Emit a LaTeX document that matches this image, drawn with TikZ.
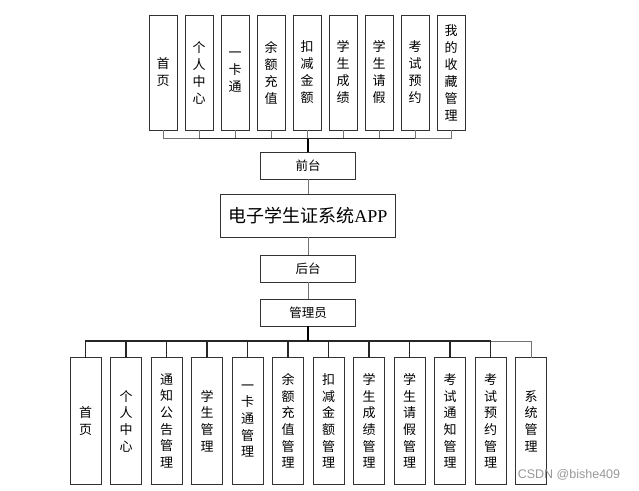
\documentclass[tikz,border=0pt]{standalone}
\usepackage{fontspec}
\setmainfont{Liberation Sans}
\newfontfamily\cjk{Noto Sans CJK SC}
\newfontfamily\titleser{Liberation Serif}
\tikzset{
  box/.style={draw=black!80, line width=1pt, inner sep=0pt, outer sep=0pt, fill=white},
  vbox/.style={box, minimum width=28pt, minimum height=115pt, align=center,
     font=\cjk\fontsize{13}{17}\selectfont},
  wbox/.style={box, minimum width=31pt, minimum height=127pt, align=center,
     font=\cjk\fontsize{13}{16.7}\selectfont},
  hbox/.style={box, minimum width=95.5pt, minimum height=27pt, font=\cjk\fontsize{12.5}{14}\selectfont},
  link/.style={draw=black!55, line width=1pt},
  darklink/.style={draw=black!85, line width=1.1pt},
  mainlink/.style={draw=black, line width=1.8pt},
}
\begin{document}
\begin{tikzpicture}[x=1pt,y=-1pt]
\useasboundingbox (0,0) rectangle (639,490);
% top boxes
\foreach \t [count=\i from 0] in {首\\页,个\\人\\中\\心,一\\卡\\通,余\\额\\充\\值,扣\\减\\金\\额,学\\生\\成\\绩,学\\生\\请\\假,考\\试\\预\\约,我\\的\\收\\藏\\管\\理}{
  \node[vbox] (t\i) at ({163+36*\i},72.5) {\t};
}
\node[hbox] (front) at (308,165.5) {前台};
\node[box, minimum width=175pt, minimum height=43pt] (app) at (308,215.5)
  {\cjk\fontsize{18}{20}\selectfont 电子学生证系统\titleser APP};
\node[hbox] (back) at (308,268.75) {后台};
\node[hbox] (admin) at (308,312.75) {管理员};
\coordinate (busT) at (308,138.5);
\coordinate (busB) at (308,341);
\foreach \i in {0,...,8}{ \draw[link] (t\i.south) |- (busT); }
\draw[darklink] (t1.south |- busT) -- (t7.south |- busT);
\draw[mainlink] (busT) -- (front.north);
\draw[link] (front.south) -- (app.north);
\draw[link] (app.south) -- (back.north);
\draw[link] (back.south) -- (admin.north);
% bottom boxes
\foreach \t [count=\i from 0] in {首\\页,个\\人\\中\\心,通\\知\\公\\告\\管\\理,学\\生\\管\\理,一\\卡\\通\\管\\理,余\\额\\充\\值\\管\\理,扣\\减\\金\\额\\管\\理,学\\生\\成\\绩\\管\\理,学\\生\\请\\假\\管\\理,考\\试\\通\\知\\管\\理,考\\试\\预\\约\\管\\理,系\\统\\管\\理}{
  \node[wbox] (b\i) at ({85.5+40.5*\i},421) {\t};
}
\foreach \i in {0,...,10}{ \draw[darklink] (b\i.north) |- (busB); }
\draw[link] (b11.north) |- (busB);
\draw[darklink] (b0.north |- busB) -- (b10.north |- busB);
\draw[mainlink] (admin.south) -- (busB);
\node[text=black!40, font=\fontsize{12.5}{14}\selectfont, inner sep=0pt] (wm) at (569,475) {CSDN @bishe409};
\end{tikzpicture}
\end{document}
